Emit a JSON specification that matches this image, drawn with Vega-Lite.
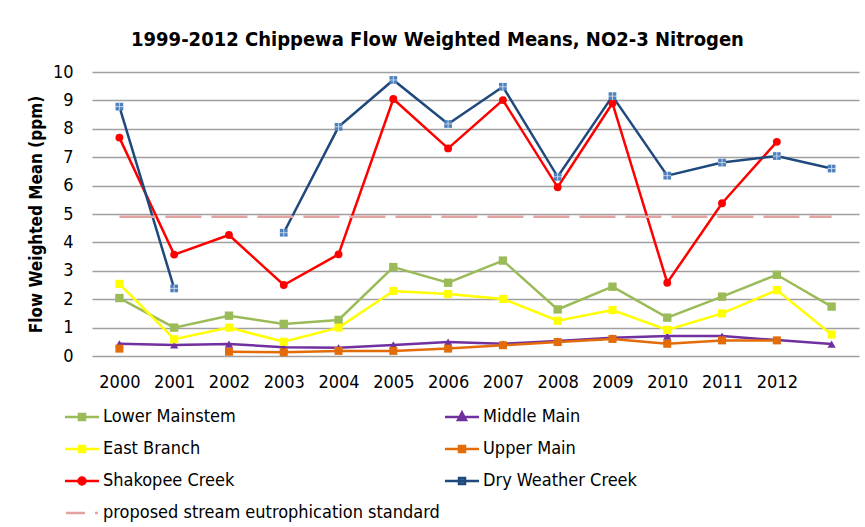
{
  "$schema": "https://vega.github.io/schema/vega-lite/v6.json",
  "width": 767,
  "height": 284,
  "autosize": {"type": "none"},
  "padding": {"left": 92, "top": 72, "right": 6, "bottom": 171},
  "background": "white",
  "title": {
    "text": "1999-2012 Chippewa Flow Weighted Means,  NO2-3 Nitrogen",
    "fontSize": 20,
    "fontWeight": "bold",
    "font": "DejaVu Sans Condensed, sans-serif",
    "color": "#000000",
    "anchor": "middle",
    "dx": -38,
    "offset": 13
  },
  "config": {
    "font": "DejaVu Sans Condensed, sans-serif",
    "view": {"stroke": null},
    "axis": {"labelColor": "#000000", "titleColor": "#000000"}
  },
  "data": {
    "values": [
      {"s": "Lower Mainstem", "x": 2000, "y": 2.04, "seg": "a"},
      {"s": "Lower Mainstem", "x": 2001, "y": 1.0, "seg": "a"},
      {"s": "Lower Mainstem", "x": 2002, "y": 1.42, "seg": "a"},
      {"s": "Lower Mainstem", "x": 2003, "y": 1.13, "seg": "a"},
      {"s": "Lower Mainstem", "x": 2004, "y": 1.27, "seg": "a"},
      {"s": "Lower Mainstem", "x": 2005, "y": 3.13, "seg": "a"},
      {"s": "Lower Mainstem", "x": 2006, "y": 2.58, "seg": "a"},
      {"s": "Lower Mainstem", "x": 2007, "y": 3.36, "seg": "a"},
      {"s": "Lower Mainstem", "x": 2008, "y": 1.64, "seg": "a"},
      {"s": "Lower Mainstem", "x": 2009, "y": 2.44, "seg": "a"},
      {"s": "Lower Mainstem", "x": 2010, "y": 1.35, "seg": "a"},
      {"s": "Lower Mainstem", "x": 2011, "y": 2.09, "seg": "a"},
      {"s": "Lower Mainstem", "x": 2012, "y": 2.86, "seg": "a"},
      {"s": "Lower Mainstem", "x": 2013, "y": 1.74, "seg": "a"},
      {"s": "Middle Main", "x": 2000, "y": 0.43, "seg": "a"},
      {"s": "Middle Main", "x": 2001, "y": 0.39, "seg": "a"},
      {"s": "Middle Main", "x": 2002, "y": 0.42, "seg": "a"},
      {"s": "Middle Main", "x": 2003, "y": 0.31, "seg": "a"},
      {"s": "Middle Main", "x": 2004, "y": 0.29, "seg": "a"},
      {"s": "Middle Main", "x": 2005, "y": 0.39, "seg": "a"},
      {"s": "Middle Main", "x": 2006, "y": 0.49, "seg": "a"},
      {"s": "Middle Main", "x": 2007, "y": 0.43, "seg": "a"},
      {"s": "Middle Main", "x": 2008, "y": 0.53, "seg": "a"},
      {"s": "Middle Main", "x": 2009, "y": 0.64, "seg": "a"},
      {"s": "Middle Main", "x": 2010, "y": 0.7, "seg": "a"},
      {"s": "Middle Main", "x": 2011, "y": 0.7, "seg": "a"},
      {"s": "Middle Main", "x": 2012, "y": 0.56, "seg": "a"},
      {"s": "Middle Main", "x": 2013, "y": 0.42, "seg": "a"},
      {"s": "East Branch", "x": 2000, "y": 2.54, "seg": "a"},
      {"s": "East Branch", "x": 2001, "y": 0.59, "seg": "a"},
      {"s": "East Branch", "x": 2002, "y": 1.0, "seg": "a"},
      {"s": "East Branch", "x": 2003, "y": 0.5, "seg": "a"},
      {"s": "East Branch", "x": 2004, "y": 1.0, "seg": "a"},
      {"s": "East Branch", "x": 2005, "y": 2.29, "seg": "a"},
      {"s": "East Branch", "x": 2006, "y": 2.18, "seg": "a"},
      {"s": "East Branch", "x": 2007, "y": 2.01, "seg": "a"},
      {"s": "East Branch", "x": 2008, "y": 1.24, "seg": "a"},
      {"s": "East Branch", "x": 2009, "y": 1.62, "seg": "a"},
      {"s": "East Branch", "x": 2010, "y": 0.92, "seg": "a"},
      {"s": "East Branch", "x": 2011, "y": 1.5, "seg": "a"},
      {"s": "East Branch", "x": 2012, "y": 2.32, "seg": "a"},
      {"s": "East Branch", "x": 2013, "y": 0.76, "seg": "a"},
      {"s": "Upper Main", "x": 2000, "y": 0.26, "seg": "a"},
      {"s": "Upper Main", "x": 2002, "y": 0.15, "seg": "b"},
      {"s": "Upper Main", "x": 2003, "y": 0.13, "seg": "b"},
      {"s": "Upper Main", "x": 2004, "y": 0.18, "seg": "b"},
      {"s": "Upper Main", "x": 2005, "y": 0.18, "seg": "b"},
      {"s": "Upper Main", "x": 2006, "y": 0.26, "seg": "b"},
      {"s": "Upper Main", "x": 2007, "y": 0.38, "seg": "b"},
      {"s": "Upper Main", "x": 2008, "y": 0.49, "seg": "b"},
      {"s": "Upper Main", "x": 2009, "y": 0.6, "seg": "b"},
      {"s": "Upper Main", "x": 2010, "y": 0.43, "seg": "b"},
      {"s": "Upper Main", "x": 2011, "y": 0.55, "seg": "b"},
      {"s": "Upper Main", "x": 2012, "y": 0.55, "seg": "b"},
      {"s": "Shakopee Creek", "x": 2000, "y": 7.69, "seg": "a"},
      {"s": "Shakopee Creek", "x": 2001, "y": 3.57, "seg": "a"},
      {"s": "Shakopee Creek", "x": 2002, "y": 4.26, "seg": "a"},
      {"s": "Shakopee Creek", "x": 2003, "y": 2.5, "seg": "a"},
      {"s": "Shakopee Creek", "x": 2004, "y": 3.58, "seg": "a"},
      {"s": "Shakopee Creek", "x": 2005, "y": 9.05, "seg": "a"},
      {"s": "Shakopee Creek", "x": 2006, "y": 7.31, "seg": "a"},
      {"s": "Shakopee Creek", "x": 2007, "y": 9.01, "seg": "a"},
      {"s": "Shakopee Creek", "x": 2008, "y": 5.94, "seg": "a"},
      {"s": "Shakopee Creek", "x": 2009, "y": 8.9, "seg": "a"},
      {"s": "Shakopee Creek", "x": 2010, "y": 2.58, "seg": "a"},
      {"s": "Shakopee Creek", "x": 2011, "y": 5.38, "seg": "a"},
      {"s": "Shakopee Creek", "x": 2012, "y": 7.54, "seg": "a"},
      {"s": "Dry Weather Creek", "x": 2000, "y": 8.78, "seg": "a"},
      {"s": "Dry Weather Creek", "x": 2001, "y": 2.38, "seg": "a"},
      {"s": "Dry Weather Creek", "x": 2003, "y": 4.34, "seg": "b"},
      {"s": "Dry Weather Creek", "x": 2004, "y": 8.07, "seg": "b"},
      {"s": "Dry Weather Creek", "x": 2005, "y": 9.72, "seg": "b"},
      {"s": "Dry Weather Creek", "x": 2006, "y": 8.17, "seg": "b"},
      {"s": "Dry Weather Creek", "x": 2007, "y": 9.48, "seg": "b"},
      {"s": "Dry Weather Creek", "x": 2008, "y": 6.31, "seg": "b"},
      {"s": "Dry Weather Creek", "x": 2009, "y": 9.15, "seg": "b"},
      {"s": "Dry Weather Creek", "x": 2010, "y": 6.35, "seg": "b"},
      {"s": "Dry Weather Creek", "x": 2011, "y": 6.81, "seg": "b"},
      {"s": "Dry Weather Creek", "x": 2012, "y": 7.04, "seg": "b"},
      {"s": "Dry Weather Creek", "x": 2013, "y": 6.6, "seg": "b"},
      {"s": "proposed stream eutrophication standard", "x": 2000, "y": 4.9, "seg": "a"},
      {"s": "proposed stream eutrophication standard", "x": 2013, "y": 4.9, "seg": "a"}
    ]
  },
  "encoding": {
    "x": {
      "field": "x",
      "type": "ordinal",
      "scale": {"type": "point", "padding": 0.5},
      "axis": {
        "title": null,
        "labelAngle": 0,
        "ticks": false,
        "domain": false,
        "grid": false,
        "labelPadding": 17,
        "labelFontSize": 18,
        "labelExpr": "datum.value == 2013 ? '' : datum.label"
      }
    },
    "y": {
      "field": "y",
      "type": "quantitative",
      "scale": {"domain": [0, 10], "nice": false},
      "axis": {
        "title": "Flow Weighted Mean (ppm)",
        "titleFontSize": 17,
        "titleFontWeight": "bold",
        "titlePadding": 7,
        "values": [0, 1, 2, 3, 4, 5, 6, 7, 8, 9, 10],
        "ticks": false,
        "domain": false,
        "labelPadding": 19,
        "labelFontSize": 18,
        "gridColor": "#a0a0a0",
        "gridWidth": 1.3
      }
    }
  },
  "layer": [
    {
      "transform": [{"filter": "datum.s != 'proposed stream eutrophication standard'"}],
      "mark": {"type": "line", "strokeWidth": 2.5},
      "encoding": {
        "stroke": {
          "field": "s",
          "type": "nominal",
          "scale": {
            "domain": ["Lower Mainstem", "East Branch", "Shakopee Creek", "proposed stream eutrophication standard", "Middle Main", "Upper Main", "Dry Weather Creek"],
            "range": ["#9bbb59", "#ffff00", "#ff0000", "#e3a3a1", "#7030a0", "#e36c09", "#1f497d"]
          },
          "legend": {
            "title": null,
            "orient": "none",
            "legendX": -19,
            "legendY": 336,
            "columns": 2,
            "columnPadding": 0,
            "rowPadding": 14,
            "padding": 0,
            "labelFontSize": 18,
            "labelColor": "#000000",
            "labelOffset": 12,
            "symbolSize": 100,
            "symbolStrokeWidth": 2.5,
            "labelLimit": 500,
            "encode": {
              "symbols": {
                "update": {
                  "shape": {"signal": "datum.value == 'Middle Main' ? 'M-3.4,0H3.4M0,-0.9L0.8,0.6H-0.8Z' : datum.value == 'Shakopee Creek' ? 'M-3.4,0H3.4M-0.7,0A0.7,0.7 0 1,0 0.7,0A0.7,0.7 0 1,0 -0.7,0Z' : datum.value == 'proposed stream eutrophication standard' ? 'M-3.2,0H0.6M2.6,0H3.2' : 'M-3.4,0H3.4M-0.6,-0.6H0.6V0.6H-0.6Z'"},
                  "fill": {"signal": "datum.value == 'Dry Weather Creek' ? '#4f81bd' : datum.value == 'proposed stream eutrophication standard' ? 'transparent' : scale('stroke', datum.value)"},
                  "strokeDash": {"value": []}
                }
              }
            }
          }
        },
        "detail": {"field": "seg"},
        "order": {"field": "x"}
      }
    },
    {
      "transform": [{"filter": "datum.s == 'proposed stream eutrophication standard'"}],
      "mark": {"type": "line", "strokeWidth": 2.5, "strokeDash": [36, 10]},
      "encoding": {
        "stroke": {"field": "s", "type": "nominal"}
      }
    },
    {
      "transform": [{"filter": "datum.s != 'proposed stream eutrophication standard'"}],
      "mark": {"type": "point", "filled": true, "opacity": 1, "strokeWidth": 0},
      "encoding": {
        "fill": {
          "field": "s",
          "type": "nominal",
          "legend": null,
          "scale": {
            "domain": ["Lower Mainstem", "Middle Main", "East Branch", "Upper Main", "Shakopee Creek", "Dry Weather Creek"],
            "range": ["#9bbb59", "#7030a0", "#ffff00", "#e36c09", "#ff0000", "#4f81bd"]
          }
        },
        "shape": {
          "field": "s",
          "type": "nominal",
          "legend": null,
          "scale": {
            "domain": ["Lower Mainstem", "Middle Main", "East Branch", "Upper Main", "Shakopee Creek", "Dry Weather Creek"],
            "range": ["square", "triangle-up", "square", "square", "circle", "square"]
          }
        },
        "size": {
          "field": "s",
          "type": "nominal",
          "legend": null,
          "scale": {
            "domain": ["Lower Mainstem", "Middle Main", "East Branch", "Upper Main", "Shakopee Creek", "Dry Weather Creek"],
            "range": [70, 60, 70, 70, 85, 70]
          }
        }
      }
    },
    {
      "transform": [{"filter": "datum.s == 'Dry Weather Creek'"}],
      "mark": {"type": "point", "shape": "M-1,0H1M0,-1V1", "size": 70, "stroke": "#ffffff", "strokeWidth": 0.8, "opacity": 0.8, "filled": false},
      "encoding": {}
    }
  ]
}
